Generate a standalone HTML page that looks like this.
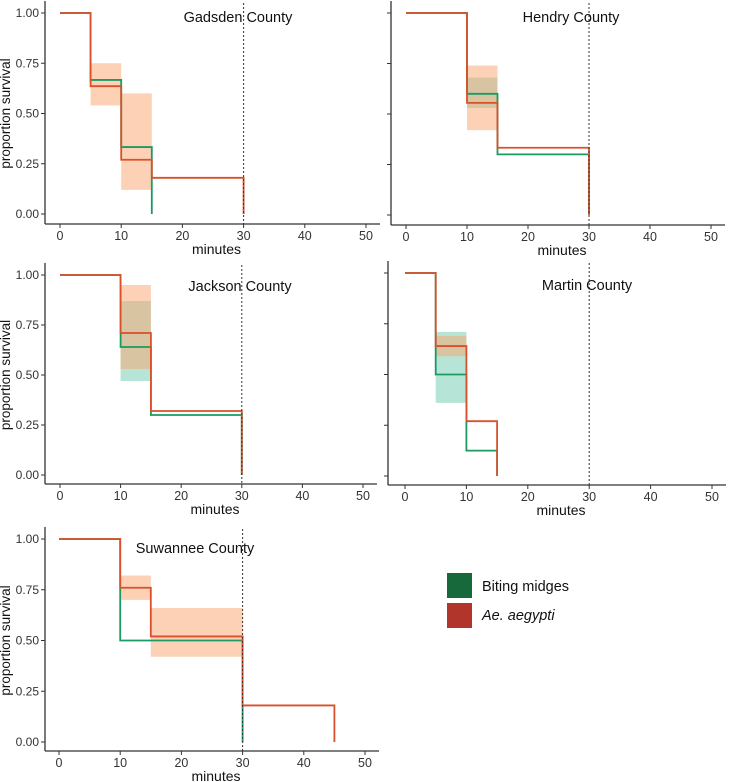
<!DOCTYPE html>
<html><head><meta charset="utf-8">
<style>
html,body{margin:0;padding:0;background:#fff;}
svg{display:block;font-family:"Liberation Sans",Arial,sans-serif;}
</style></head>
<body>
<svg id="chart" width="730" height="782" viewBox="0 0 730 782"></svg>
<script>
// ---- data (minutes, proportion survival) ----
const panelNames = ["Gadsden County","Hendry County","Jackson County","Martin County","Suwannee County"];
const xTicks = [0,10,20,30,40,50];
const yTicks = [0,0.25,0.5,0.75,1];
const yTickLabels = ["0.00","0.25","0.50","0.75","1.00"];
const cutoffMinute = 30;
// step times & survival for Ae. aegypti
const aeTimes = [[0,5,10,15,30],[0,10,15,30],[0,10,15,30],[0,5,10,15],[0,10,15,30,45]];
const aeSurv  = [[1,0.636,0.27,0.18,0],[1,0.555,0.333,0],[1,0.71,0.32,0],[1,0.64,0.27,0],[1,0.76,0.52,0.18,0]];
// biting midges
const bmTimes = [[0,5,10,15],[0,10,15,30],[0,10,15,30],[0,5,10,15],[0,10,30]];
const bmSurv  = [[1,0.667,0.333,0],[1,0.6,0.3,0],[1,0.64,0.3,0],[1,0.5,0.125,0],[1,0.5,0]];
// confidence intervals: [start, end, low, high]
const aeCI = [[[5,10,0.54,0.75],[10,15,0.12,0.60]],[[10,15,0.42,0.74]],[[10,15,0.53,0.95]],[[5,10,0.59,0.69]],[[10,15,0.70,0.82],[15,30,0.42,0.66]]];
const bmCI = [[],[[10,15,0.53,0.68]],[[10,15,0.47,0.87]],[[5,10,0.36,0.71]],[]];

const NS="http://www.w3.org/2000/svg";
const svg=document.getElementById('chart');
function mk(tag,attrs,parent){const e=document.createElementNS(NS,tag);for(const k in attrs)e.setAttribute(k,attrs[k]);(parent||svg).appendChild(e);return e;}

const layouts=[
 {ax:45,x0:60,x50:366,y1:13,y0:214,bot:224,ylabels:true,tx:238,ty:22},
 {ax:391,x0:406,x50:711,y1:13,y0:215,bot:225,ylabels:false,tx:571,ty:22},
 {ax:45,x0:60,x50:363,y1:275,y0:475,bot:484,ylabels:true,tx:240,ty:291},
 {ax:388,x0:405,x50:712,y1:273,y0:476,bot:485,ylabels:false,tx:587,ty:290},
 {ax:45,x0:59,x50:365,y1:539,y0:742,bot:751,ylabels:true,tx:195,ty:553}
];

layouts.forEach((L,i)=>{
  const g=mk('g',{});
  
  
  const sx=t=>L.x0+(L.x50-L.x0)*t/50;
  const sy=v=>L.y0-(L.y0-L.y1)*v;
  const right=L.x50+14;
  bmCI[i].forEach(c=>{const r=mk('rect',{x:sx(c[0]),y:sy(c[3]),width:sx(c[1])-sx(c[0]),height:sy(c[2])-sy(c[3]),fill:'#48bd9a','fill-opacity':0.4},g);
    });
  aeCI[i].forEach(c=>{const r=mk('rect',{x:sx(c[0]),y:sy(c[3]),width:sx(c[1])-sx(c[0]),height:sy(c[2])-sy(c[3]),fill:'#f9a46b','fill-opacity':0.5},g);
    });
  function step(ts,vs,color,name){
    let d='M'+sx(ts[0])+','+sy(vs[0]);
    for(let k=1;k<ts.length;k++){d+=' H'+sx(ts[k])+' V'+sy(vs[k]);}
    const p=mk('path',{d:d,fill:'none',stroke:color,'stroke-width':1.8},g);
    
  }
  step(bmTimes[i],bmSurv[i],'#1b9a63','line-biting-midges');
  step(aeTimes[i],aeSurv[i],'#d9502a','line-ae-aegypti');
  const cl=mk('line',{x1:sx(cutoffMinute),x2:sx(cutoffMinute),y1:L.y1-10,y2:L.bot,stroke:'#333','stroke-width':1,'stroke-dasharray':'2,2'},g);
  
  const xa=mk('line',{x1:L.ax,x2:right,y1:L.bot,y2:L.bot,stroke:'#333','stroke-width':1.3},g);
  
  const ya=mk('line',{x1:L.ax,x2:L.ax,y1:L.y1-12,y2:L.bot,stroke:'#333','stroke-width':1.3},g);
  
  xTicks.forEach(t=>{
    mk('line',{x1:sx(t),x2:sx(t),y1:L.bot,y2:L.bot+4,stroke:'#333'},g);
    const tx=mk('text',{x:sx(t),y:L.bot+16,'text-anchor':'middle','font-size':12.5,fill:'#333'},g);
    tx.textContent=t;
    
  });
  yTicks.forEach((v,k)=>{
    mk('line',{x1:L.ax-4,x2:L.ax,y1:sy(v),y2:sy(v),stroke:'#333'},g);
    if(L.ylabels){
      const ty=mk('text',{x:L.ax-6,y:sy(v)+4,'text-anchor':'end','font-size':12,fill:'#333'},g);
      ty.textContent=yTickLabels[k];
      
    }
  });
  const xt=mk('text',{x:(L.ax+right)/2+4,y:L.bot+30,'text-anchor':'middle','font-size':14,fill:'#111'},g);
  xt.textContent='minutes';
  
  if(L.ylabels){
    const yt=mk('text',{x:0,y:0,'text-anchor':'middle','font-size':13.5,fill:'#111',transform:'translate(10,'+((L.y1+L.y0)/2)+') rotate(-90)'},g);
    yt.textContent='proportion survival';
    
  }
  const tt=mk('text',{x:L.tx,y:L.ty,'text-anchor':'middle','font-size':14.5,fill:'#111'},g);
  tt.textContent=panelNames[i];
  
});

const lg=mk('g',{});

const b1=mk('rect',{x:447,y:573,width:25,height:25,fill:'#17693b'},lg);

const b2=mk('rect',{x:447,y:603,width:25,height:25,fill:'#b1352b'},lg);

const t1=mk('text',{x:482,y:591,'font-size':14.5,fill:'#111'},lg);t1.textContent='Biting midges';

const t2=mk('text',{x:482,y:620,'font-size':14.5,fill:'#111','font-style':'italic'},lg);t2.textContent='Ae. aegypti';

</script>
</body></html>
